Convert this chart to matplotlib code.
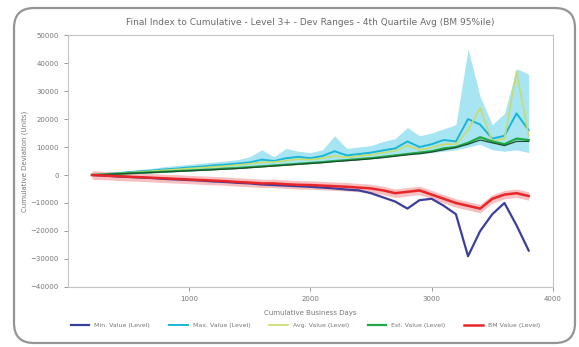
#!/usr/bin/env python3

import matplotlib
matplotlib.use("Agg")
import matplotlib.pyplot as plt
from matplotlib.patches import FancyBboxPatch
from matplotlib.transforms import IdentityTransform

fontsize = 5
matplotlib.rcParams["font.family"] = "DejaVu Sans"

# cumulative days
days = [200, 300, 400, 500, 600, 700, 800, 900, 1000, 1100, 1200, 1300,
        1400, 1500, 1600, 1700, 1800, 1900, 2000, 2100, 2200, 2300, 2400,
        2500, 2600, 2700, 2800, 2900, 3000, 3100, 3200, 3300, 3400, 3500,
        3600, 3700, 3800]

# values (units)
navy = [0, -200, -500, -700, -900, -1100, -1400, -1600, -1800, -2000, -2300,
        -2500, -2800, -3000, -3400, -3600, -3800, -4000, -4200, -4500, -4800,
        -5200, -5500, -6500, -8000, -9500, -12000, -9000, -8500, -11000,
        -14000, -29000, -20000, -14000, -10000, -18000, -27000]
cyan = [0, 300, 600, 1000, 1300, 1600, 2000, 2300, 2700, 3000, 3400, 3700,
        4100, 4500, 5500, 5000, 6000, 6500, 6000, 6800, 8500, 7000, 7500,
        8000, 8800, 9500, 12000, 10000, 11000, 12500, 12000, 20000, 18000,
        13000, 14000, 22000, 16000]
cyan_hi = [200, 600, 1000, 1500, 2000, 2400, 3000, 3400, 3800, 4200, 4600,
           5000, 5500, 6500, 9000, 6500, 9500, 8500, 8000, 9000, 14000, 9500,
           10000, 10500, 12000, 13000, 17000, 14000, 15000, 16500, 18000,
           45000, 28000, 18000, 22000, 38000, 36000]
cyan_lo = [-100, 0, 200, 400, 600, 800, 1000, 1200, 1500, 1700, 2000, 2200,
           2500, 2800, 3200, 3500, 3800, 4200, 4000, 4500, 5000, 5200, 5500,
           6000, 6500, 7000, 8000, 7500, 8000, 8500, 9000, 10000, 11000,
           9000, 8500, 9000, 8000]
yellow = [0, 250, 500, 800, 1100, 1400, 1700, 2000, 2300, 2600, 2900, 3200,
          3600, 4000, 4500, 4600, 5200, 5600, 5500, 6000, 6800, 6300, 6800,
          7200, 8000, 8600, 10500, 9000, 9800, 11000, 11000, 16000, 24000,
          12000, 13000, 37000, 14000]
green = [0, 200, 400, 600, 800, 1000, 1200, 1400, 1600, 1800, 2000, 2300,
         2500, 2800, 3100, 3400, 3700, 4000, 4300, 4600, 5000, 5300, 5700,
         6000, 6500, 7000, 7500, 8000, 8500, 9500, 10000, 11500, 13500,
         12000, 11000, 13000, 12500]
dark = [0, 150, 350, 550, 700, 900, 1100, 1300, 1500, 1700, 1900, 2100,
        2300, 2600, 2900, 3200, 3500, 3800, 4100, 4400, 4800, 5100, 5400,
        5800, 6200, 6700, 7200, 7600, 8200, 9000, 9800, 11000, 12500,
        11500, 10500, 12000, 12000]
red = [0, -200, -400, -600, -800, -1000, -1200, -1400, -1600, -1800, -2000,
       -2200, -2500, -2700, -3000, -3000, -3300, -3500, -3600, -3800, -4000,
       -4200, -4500, -4800, -5500, -6500, -6000, -5500, -7000, -8500, -10000,
       -11000, -12000, -8500, -7000, -6500, -7500]

labels = ["Min. Value (Level)", "Max. Value (Level)", "Avg. Value (Level)",
          "Est. Value (Level)", "BM Value (Level)"]
xticks = [1000, 2000, 3000, 4000]
yticks = [-40000, -30000, -20000, -10000, 0, 10000, 20000, 30000, 40000, 50000]


def main():
    fig = plt.figure(figsize=(5.79, 3.47), dpi=100)
    ax = fig.add_axes([0.117, 0.173, 0.838, 0.726])

    ax.fill_between(days, cyan_lo, cyan_hi, color="#5fd0e8", alpha=0.55, lw=0)
    ax.fill_between(days, [v - 1500 for v in red], [v + 1500 for v in red],
                    color="#f08080", alpha=0.5, lw=0)

    ax.plot(days, navy, color="#3b3f9c", lw=1.6, label=labels[0])
    ax.plot(days, cyan, color="#19b5d8", lw=1.4, label=labels[1])
    ax.plot(days, yellow, color="#c8dc6a", lw=1.2, label=labels[2])
    ax.plot(days, green, color="#1fa846", lw=1.6, label=labels[3])
    ax.plot(days, dark, color="#1f4d2e", lw=0.9)
    ax.plot(days, red, color="#e8262a", lw=1.8, label=labels[4])

    ax.set_xlim(0, 4000)
    ax.set_ylim(-40000, 50000)
    ax.set_xticks(xticks)
    ax.set_yticks(yticks)
    ax.tick_params(labelsize=fontsize, colors="#888888", labelcolor="#777777",
                   length=3, width=0.6)
    for s in ax.spines.values():
        s.set_color("#c4c4c4")
        s.set_linewidth(0.8)

    ax.set_title("Final Index to Cumulative - Level 3+ - Dev Ranges - "
                 "4th Quartile Avg (BM 95%ile)", fontsize=6.5, color="#6a6a6a",
                 pad=7)
    ax.set_xlabel("Cumulative Business Days", fontsize=fontsize,
                  color="#777777", labelpad=6)
    ax.set_ylabel("Cumulative Deviation (Units)", fontsize=fontsize,
                  color="#777777", labelpad=2)

    ax.legend(loc="upper center", bbox_to_anchor=(0.49, -0.12), ncol=5,
              frameon=False, fontsize=4.5, handlelength=3, columnspacing=3,
              labelcolor="#777777")

    box = FancyBboxPatch((14, 4), 561, 335,
                         boxstyle="round,pad=0,rounding_size=20",
                         transform=IdentityTransform(), fill=False,
                         edgecolor="#959595", linewidth=1.6)
    fig.patches.append(box)

    fig.savefig("out.png", dpi=100)


if __name__ == "__main__":
    main()
